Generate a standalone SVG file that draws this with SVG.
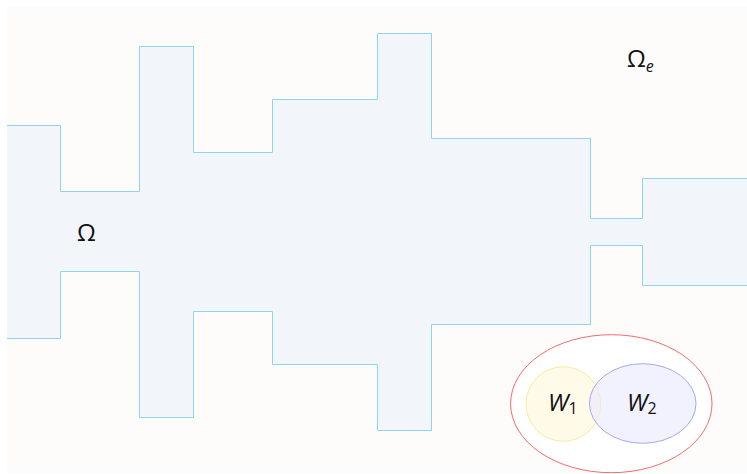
<svg xmlns="http://www.w3.org/2000/svg" width="747" height="474" viewBox="0 0 747 474">
  <style>
    .bg { fill: #fdfcfa; }
    .dom { fill: #f2f6fa; stroke: none; }
    .edge { fill: none; stroke: #8dd4f2; stroke-width: 1; }
    .lbl { font-family: "Open Sans", "Noto Sans", sans-serif; font-size: 24px; fill: #111; }
    .it { font-style: italic; }
    .sub { font-size: 16px; }
  </style>
  <rect x="0" y="0" width="747" height="474" fill="#ffffff"/>
  <rect class="bg" x="7" y="6" width="740" height="467"/>
  <g id="domain">
    <path class="dom" d="M7,125.5 H60.5 V191.5 H139.5 V46.5 H193.5 V152.5 H272.5 V99.5 H377.5 V33.5 H431.5 V138.5 H590.5 V218.5 H642.5 V178.5 H747 V285.5 H642.5 V245.5 H590.5 V324.5 H431.5 V430.5 H377.5 V364.5 H272.5 V311.5 H193.5 V417.5 H139.5 V271.5 H60.5 V338.5 H7 Z"/>
    <path class="edge" d="M7,125.5 H60.5 V191.5 H139.5 V46.5 H193.5 V152.5 H272.5 V99.5 H377.5 V33.5 H431.5 V138.5 H590.5 V218.5 H642.5 V178.5 H747 M747,285.5 H642.5 V245.5 H590.5 V324.5 H431.5 V430.5 H377.5 V364.5 H272.5 V311.5 H193.5 V417.5 H139.5 V271.5 H60.5 V338.5 H7"/>
    <text class="lbl" x="77" y="241">Ω</text>
  </g>
  <g id="exterior">
    <text class="lbl" x="627" y="67">Ω<tspan class="it sub" dy="5">e</tspan></text>
  </g>
  <g id="subdomains">
    <ellipse cx="611.3" cy="403.7" rx="100.7" ry="69" fill="#ffffff" stroke="#f26b6b" stroke-width="1"/>
    <g id="w1">
      <circle cx="563.3" cy="404" r="37.3" fill="#fffbe8" stroke="#f7ec9e" stroke-width="1"/>
      <text class="lbl it" x="548" y="411">W<tspan class="sub" dy="3" font-style="normal">1</tspan></text>
    </g>
    <g id="w2">
      <ellipse cx="642.7" cy="403.5" rx="53.3" ry="39.8" fill="#e8e8ff" fill-opacity="0.55" stroke="#a6a6f5" stroke-width="1"/>
      <text class="lbl it" x="627" y="411">W<tspan class="sub" dy="3" font-style="normal">2</tspan></text>
    </g>
  </g>
</svg>
